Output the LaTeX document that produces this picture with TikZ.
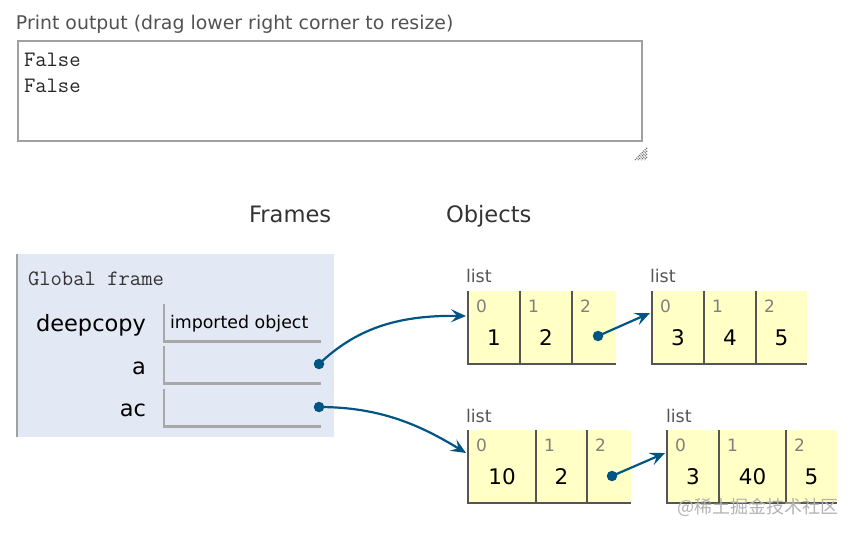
\documentclass[tikz,border=0pt]{standalone}
\usepackage{fontspec}
\setmainfont{DejaVu Sans}
\newfontfamily\cjkfont{Noto Sans CJK SC}
\usetikzlibrary{arrows.meta,positioning}
\definecolor{ptblue}{HTML}{005583}
\definecolor{framefill}{HTML}{E3E9F4}
\definecolor{listfill}{HTML}{FFFFC6}
\definecolor{listline}{HTML}{555555}
\definecolor{varline}{HTML}{A8A8A8}
\definecolor{boxline}{HTML}{A0A0A0}
\definecolor{idxgray}{HTML}{808080}
\definecolor{headgray}{HTML}{333333}

\begin{document}
\begin{tikzpicture}[
  x=1pt,y=-1pt,
  every node/.style={inner sep=0pt,outer sep=0pt},
  header/.style={font=\fontsize{22.6}{26}\selectfont,text=headgray,anchor=base west},
  mono/.style={font=\ttfamily\fontsize{22}{26}\selectfont,text=black!85,anchor=base west},
  varname/.style={font=\fontsize{22.5}{26}\selectfont,anchor=base east},
  varcell/.style={minimum width=157pt,minimum height=37.5pt,anchor=north west},
  varedge/.style={draw=varline,line width=2.2pt},
  typename/.style={font=\fontsize{17.5}{20}\selectfont,text=listline,anchor=base west},
  cell/.style={fill=listfill,text height=54pt,text depth=19pt,
               font=\fontsize{21.5}{24}\selectfont},
  idx/.style={font=\fontsize{17}{20}\selectfont,text=idxgray,anchor=base west},
  listedge/.style={draw=listline,line width=2.2pt},
  dot/.style={circle,fill=ptblue,minimum size=10.5pt},
  ref/.style={-{Stealth[length=15pt,width=13pt,inset=6pt]},ptblue,line width=2.2pt}
]
\useasboundingbox (0,0) rectangle (856,534);

% print output
\node[font=\fontsize{18.9}{22}\selectfont,text=black!68,anchor=base west] (outlabel)
  at (16,30) {Print output (drag lower right corner to resize)};
\node[draw=boxline,line width=2.2pt,minimum width=624pt,minimum height=100pt,
      anchor=north west] (outbox) at (18,41) {};
\node[mono] (out1) at (24,67) {False};
\node[mono] (out2) at (24,93) {False};
\foreach \k in {0,3,6,9}
  \draw[black!60,line width=1.2pt,dash pattern=on 1pt off 1pt]
    (647,148+\k) -- (635+\k,160);

\node[header] (frames) at (249,223) {Frames};
\node[header] (objects) at (446,223) {Objects};

% global frame
\node[fill=framefill,minimum width=317pt,minimum height=183pt,
      anchor=north west] (gframe) at (17,254) {};
\draw[draw=boxline,line width=2.6pt] (gframe.north west) -- (gframe.south west);
\node[mono,text=headgray] (gtitle) at (28,286) {Global frame};

\node[varname] (ndeep) at (146,331.5) {deepcopy};
\node[varname] (na) at (146,374) {a};
\node[varname] (nac) at (146,416.5) {ac};
\node[varcell] (vdeep) at (164,304) {};
\node[varcell] (va) at (164,346) {};
\node[varcell] (vac) at (164,389) {};
\foreach \v in {vdeep,va,vac}
  \draw[varedge] (\v.north west) |- (\v.south east);
\node[font=\fontsize{17.4}{20}\selectfont,anchor=base west] (impobj)
  at (170,329) {imported object};

% lists
\node[typename] (t1) at (466,282.5) {list};
\node[cell,minimum width=52pt,anchor=north west] (l1c0) at (468,291) {1};
\node[cell,minimum width=52pt,right=0pt of l1c0] (l1c1) {2};
\node[cell,minimum width=44pt,right=0pt of l1c1] (l1c2) {};

\node[typename] (t2) at (650,282.5) {list};
\node[cell,minimum width=52pt,anchor=north west] (l2c0) at (652,291) {3};
\node[cell,minimum width=52pt,right=0pt of l2c0] (l2c1) {4};
\node[cell,minimum width=51pt,right=0pt of l2c1] (l2c2) {5};

\node[typename] (t3) at (466,422.5) {list};
\node[cell,minimum width=68pt,anchor=north west] (l3c0) at (468,430) {10};
\node[cell,minimum width=51pt,right=0pt of l3c0] (l3c1) {2};
\node[cell,minimum width=44pt,right=0pt of l3c1] (l3c2) {};

\node[typename] (t4) at (666,422.5) {list};
\node[cell,minimum width=52pt,anchor=north west] (l4c0) at (667,430) {3};
\node[cell,minimum width=67pt,right=0pt of l4c0] (l4c1) {40};
\node[cell,minimum width=51pt,right=0pt of l4c1] (l4c2) {5};

\foreach \ls in {l1,l2,l3,l4}
  \foreach \i in {0,1,2} {
    \node[idx] (\ls i\i) at ([xshift=8pt,yshift=-21.3pt]\ls c\i.north west) {\i};
    \draw[listedge] (\ls c\i.north west) |- (\ls c\i.south east);
  }

% pointers
\node[dot] (adot) at (319,364) {};
\node[dot] (acdot) at (319,407) {};
\node[dot] (l1dot) at (598,336) {};
\node[dot] (l3dot) at (612,476) {};
\draw[ref] (adot.center) .. controls (355,330) and (395,315)
  .. ([xshift=-2pt,yshift=-25pt]l1c0.north west);
\draw[ref] (acdot.center) .. controls (380,407) and (420,425)
  .. ([xshift=-2pt,yshift=-23pt]l3c0.north west);
\draw[ref] (l1dot.center) -- ([xshift=-2pt,yshift=-22pt]l2c0.north west);
\draw[ref] (l3dot.center) -- ([xshift=-2pt,yshift=-23pt]l4c0.north west);

\node[font=\cjkfont\fontsize{18}{21}\selectfont,text=black!30,anchor=west]
  (wmark) at (677,507) {@稀土掘金技术社区};
\end{tikzpicture}
\end{document}
